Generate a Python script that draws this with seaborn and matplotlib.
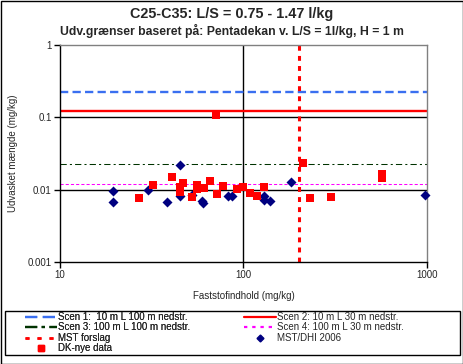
import numpy as np
import pandas as pd
import matplotlib
matplotlib.use("Agg")
import matplotlib.pyplot as plt
import seaborn as sns
from matplotlib.lines import Line2D

sns.set_style("white")
plt.rcParams['font.family'] = ['Liberation Sans', 'DejaVu Sans']

# MST/DHI 2006 (diamonds)
dhi_x = [19.4, 19.4, 30.3, 38.2, 44.8, 44.8, 52.3, 59.3, 60.5, 82.2, 86.4, 130, 130, 140, 181, 980]
dhi_y = [0.0096, 0.0068, 0.0098, 0.0068, 0.0216, 0.0081, 0.0084, 0.0070, 0.0066, 0.0081, 0.0081,
         0.0081, 0.0072, 0.0070, 0.0128, 0.0084]

# DK-nye data (squares)
dk_x = [27.1, 32.0, 40.6, 44.8, 44.8, 47.1, 52.3, 55.7, 55.7, 61.1, 65.8, 71.6, 77.2, 92.1, 99.3,
        108.8, 118.4, 129.7, 70.4, 210, 231, 301, 569, 569]
dk_y = [0.0077, 0.0115, 0.0147, 0.0109, 0.0093, 0.0122, 0.0078, 0.0115, 0.0101, 0.0104, 0.0131,
        0.0087, 0.0112, 0.0101, 0.0109, 0.0090, 0.0081, 0.0109, 0.106, 0.0234, 0.0077, 0.0080,
        0.0165, 0.0143]

# limit lines
scen_names = ["Scen 1:  10 m L 100 m nedstr.", "Scen 2: 10 m L 30 m nedstr.",
              "Scen 3: 100 m L 100 m nedstr.", "Scen 4: 100 m L 30 m nedstr."]
scen_vals = [0.224, 0.123, 0.0225, 0.0118]
mst_forslag = 200

dhi = pd.DataFrame({'x': dhi_x, 'y': dhi_y})
dk = pd.DataFrame({'x': dk_x, 'y': dk_y})

fig = plt.figure(figsize=(4.64, 3.64), dpi=100)
ax = fig.add_axes([60/464, 1-262/364, 367/464, (262-44.7)/364])

ax.set_xscale('log')
ax.set_yscale('log')
ax.set_xlim(10, 1000)
ax.set_ylim(0.001, 1)

# grid lines
ax.axhline(0.1, color='black', lw=1, zorder=1)
ax.axhline(0.01, color='black', lw=1, zorder=1)
ax.axvline(100, color='black', lw=1, zorder=1)

ax.axhline(scen_vals[0], color='#3a6ff0', lw=1.7, dashes=(3.5, 1.8), zorder=2)
ax.axhline(scen_vals[1], color='#ff0000', lw=1.7, zorder=2)
ax.axhline(scen_vals[2], color='#003300', lw=0.75, dashes=(6, 3, 2, 3), zorder=2)
ax.axhline(scen_vals[3], color='#ff00ff', lw=0.75, dashes=(3, 2), zorder=2)
ax.axvline(mst_forslag, color='#ff0000', lw=2.2, dashes=(1.6, 1.7), zorder=2)

sns.scatterplot(data=dhi, x='x', y='y', marker='D', color='#000080', s=26,
                edgecolor='#000080', linewidth=0, ax=ax, zorder=3, clip_on=False)
sns.scatterplot(data=dk, x='x', y='y', marker='s', color='#ff0000', s=36,
                edgecolor='#ff0000', linewidth=0, ax=ax, zorder=4)

ax.set_xticks([10, 100, 1000])
ax.set_xticklabels(['10', '100', '1000'])
ax.set_yticks([0.001, 0.01, 0.1, 1])
ax.set_yticklabels(['0.001', '0.01', '0.1', '1'])
ax.minorticks_off()
ax.tick_params(axis='both', which='major', direction='out', length=4, width=1,
               labelsize=7, color='black', pad=2)
ax.tick_params(left=True, bottom=True)
ax.set_xlabel('Faststofindhold (mg/kg)', fontsize=7, labelpad=8)
ax.set_ylabel('Udvasket mængde (mg/kg)', fontsize=7, labelpad=7)

for s in ['left', 'bottom']:
    ax.spines[s].set_color('black')
    ax.spines[s].set_linewidth(1)
for s in ['top', 'right']:
    ax.spines[s].set_color('#808080')
    ax.spines[s].set_linewidth(1)

fig.text(0.5, 1-14/364, 'C25-C35: L/S = 0.75 - 1.47 l/kg', ha='center', va='center',
         fontsize=10.4, fontweight='bold')
fig.text(0.5, 1-31/364, 'Udv.grænser baseret på: Pentadekan v. L/S = 1l/kg, H = 1 m',
         ha='center', va='center', fontsize=8.8, fontweight='bold')

# legend handles (drawn thicker than the plot lines, like the original)
h1 = Line2D([], [], color='#3a6ff0', lw=1.6, dashes=(5.5, 2.5))
h2 = Line2D([], [], color='#ff0000', lw=1.6)
h3 = Line2D([], [], color='#003300', lw=1.6, dashes=(5.5, 2, 1.5, 2))
h4 = Line2D([], [], color='#ff00ff', lw=1.6, dashes=(1.5, 2.2))
h5 = Line2D([], [], color='#ff0000', lw=1.8, dashes=(1.6, 3.2))
h_dhi = Line2D([], [], ls='none', marker='D', color='#000080', markersize=3.5)
h_dk = Line2D([], [], ls='none', marker='s', color='#ff0000', markersize=4.5)

leg_kw = dict(loc='upper left', fontsize=7, frameon=False, handlelength=3.3,
              handletextpad=0.1, labelspacing=0.05, borderpad=0, borderaxespad=0)
leg1 = fig.legend([h1, h3, h5, h_dk],
                  [scen_names[0], scen_names[2], 'MST forslag', 'DK-nye data'],
                  bbox_to_anchor=(25/464, 1-312/364), **leg_kw)
fig.add_artist(leg1)
leg2 = fig.legend([h2, h4, h_dhi],
                  [scen_names[1], scen_names[3], 'MST/DHI 2006'],
                  bbox_to_anchor=(244/464, 1-312/364), **leg_kw)

fig.patches.append(plt.Rectangle((5/464, 1-355/364), 455/464, 44/364, transform=fig.transFigure,
                                 fill=False, edgecolor='black', lw=1))
fig.patches.append(plt.Rectangle((0.5/464, 0.5/364), 463/464, 363/364, transform=fig.transFigure,
                                 fill=False, edgecolor='black', lw=1))

fig.savefig('out.png', dpi=100)
